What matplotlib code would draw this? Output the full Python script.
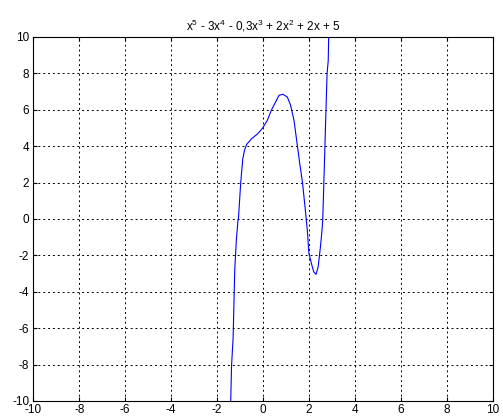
import matplotlib.pyplot as plt

plt.rcParams['font.family'] = ['Liberation Sans', 'DejaVu Sans']
plt.rcParams['mathtext.default'] = 'regular'
plt.rcParams['axes.unicode_minus'] = False

# punkty krzywej wielomianu
x_vals = [-1.405, -1.37, -1.30, -1.23, -1.16, -1.09, -1.07, -0.97, -0.88, -0.80, -0.71,
          -0.49, -0.25, -0.03, 0.19, 0.36, 0.55, 0.70, 0.87, 1.06, 1.20,
          1.35, 1.50, 1.60, 1.72, 1.83, 1.93, 2.00, 2.11, 2.21, 2.31,
          2.40, 2.50, 2.57, 2.60, 2.65, 2.72, 2.79, 2.84, 2.86]
y_vals = [-10.0, -8.1, -6.5, -2.8, -1.17, -0.07, 0.0, 2.0, 3.3, 3.8, 4.1,
          4.42, 4.66, 4.97, 5.42, 5.97, 6.43, 6.80, 6.85, 6.70, 6.25,
          5.42, 4.0, 3.04, 2.0, 0.66, -0.62, -1.9, -2.45, -2.91, -3.04,
          -2.64, -1.54, -0.62, -0.07, 2.0, 5.05, 7.99, 8.7, 10.0]

ticks = list(range(-10, 11, 2))

fig = plt.figure(figsize=(5.03, 4.18), dpi=100)
ax = fig.add_axes([0.0662, 0.0407, 0.9133, 0.8708])
ax.plot(x_vals, y_vals, color=(0, 0, 1), linewidth=0.8)
ax.set_xlim(-10, 10)
ax.set_ylim(-10, 10)
ax.set_xticks(ticks)
ax.set_yticks(ticks)
ax.grid(True, color='black', linestyle=(0, (2, 3)), linewidth=0.7)
ax.tick_params(direction='in', top=True, right=True, length=3, labelsize=8.5)
ax.tick_params(axis='x', pad=2.5)
ax.tick_params(axis='y', pad=3)
for s in ax.spines.values():
    s.set_linewidth(0.8)
ax.set_title('x$^5$ - 3x$^4$ - 0,3x$^3$ + 2x$^2$ + 2x + 5', fontsize=8.5, pad=5)

fig.savefig('out.png', dpi=100)
